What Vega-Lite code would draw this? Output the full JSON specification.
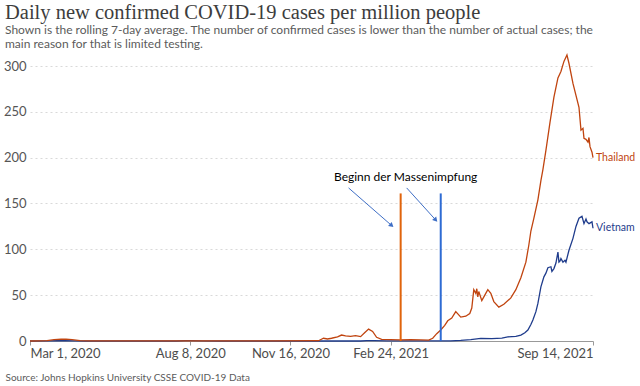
{
  "$schema": "https://vega.github.io/schema/vega-lite/v6.json",
  "width": 563,
  "height": 286,
  "autosize": {"type": "none"},
  "padding": {"left": 30, "top": 55, "right": 47, "bottom": 45},
  "background": "white",
  "config": {"view": {"stroke": null}},
  "title": {
    "text": "Daily new confirmed COVID-19 cases per million people",
    "subtitle": ["Shown is the rolling 7-day average. The number of confirmed cases is lower than the number of actual cases; the", "main reason for that is limited testing."],
    "anchor": "start",
    "frame": "group",
    "dx": -25,
    "font": "Liberation Serif",
    "fontSize": 20.5,
    "fontWeight": "normal",
    "color": "#3d3d3d",
    "subtitleFont": "Lato",
    "subtitleFontSize": 12,
    "subtitleColor": "#5b5b5b",
    "subtitlePadding": 2,
    "subtitleLineHeight": 14,
    "offset": 2
  },
  "datasets": {
    "series": [
      {"country": "Vietnam", "date": "2020-03-01", "value": 0},
      {"country": "Vietnam", "date": "2020-03-20", "value": 0.1},
      {"country": "Vietnam", "date": "2020-03-28", "value": 0.25},
      {"country": "Vietnam", "date": "2020-04-05", "value": 0.3},
      {"country": "Vietnam", "date": "2020-04-15", "value": 0.1},
      {"country": "Vietnam", "date": "2020-04-25", "value": 0.02},
      {"country": "Vietnam", "date": "2020-07-25", "value": 0.02},
      {"country": "Vietnam", "date": "2020-08-03", "value": 0.3},
      {"country": "Vietnam", "date": "2020-08-10", "value": 0.4},
      {"country": "Vietnam", "date": "2020-08-20", "value": 0.2},
      {"country": "Vietnam", "date": "2020-09-05", "value": 0.02},
      {"country": "Vietnam", "date": "2021-01-25", "value": 0.02},
      {"country": "Vietnam", "date": "2021-01-31", "value": 0.5},
      {"country": "Vietnam", "date": "2021-02-08", "value": 0.4},
      {"country": "Vietnam", "date": "2021-02-20", "value": 0.1},
      {"country": "Vietnam", "date": "2021-03-15", "value": 0.05},
      {"country": "Vietnam", "date": "2021-04-25", "value": 0.1},
      {"country": "Vietnam", "date": "2021-05-05", "value": 0.6},
      {"country": "Vietnam", "date": "2021-05-15", "value": 1.4},
      {"country": "Vietnam", "date": "2021-05-25", "value": 2.8},
      {"country": "Vietnam", "date": "2021-06-05", "value": 2.6},
      {"country": "Vietnam", "date": "2021-06-15", "value": 3.2},
      {"country": "Vietnam", "date": "2021-06-21", "value": 4.5},
      {"country": "Vietnam", "date": "2021-06-29", "value": 5},
      {"country": "Vietnam", "date": "2021-07-04", "value": 6.5},
      {"country": "Vietnam", "date": "2021-07-08", "value": 9},
      {"country": "Vietnam", "date": "2021-07-11", "value": 12},
      {"country": "Vietnam", "date": "2021-07-14", "value": 18},
      {"country": "Vietnam", "date": "2021-07-16", "value": 23},
      {"country": "Vietnam", "date": "2021-07-19", "value": 32},
      {"country": "Vietnam", "date": "2021-07-21", "value": 41},
      {"country": "Vietnam", "date": "2021-07-24", "value": 59},
      {"country": "Vietnam", "date": "2021-07-27", "value": 70},
      {"country": "Vietnam", "date": "2021-07-29", "value": 74},
      {"country": "Vietnam", "date": "2021-07-31", "value": 80},
      {"country": "Vietnam", "date": "2021-08-03", "value": 81},
      {"country": "Vietnam", "date": "2021-08-04", "value": 76},
      {"country": "Vietnam", "date": "2021-08-06", "value": 79},
      {"country": "Vietnam", "date": "2021-08-08", "value": 85},
      {"country": "Vietnam", "date": "2021-08-10", "value": 97},
      {"country": "Vietnam", "date": "2021-08-11", "value": 86},
      {"country": "Vietnam", "date": "2021-08-12", "value": 87},
      {"country": "Vietnam", "date": "2021-08-13", "value": 90},
      {"country": "Vietnam", "date": "2021-08-15", "value": 86},
      {"country": "Vietnam", "date": "2021-08-17", "value": 88},
      {"country": "Vietnam", "date": "2021-08-18", "value": 86},
      {"country": "Vietnam", "date": "2021-08-21", "value": 99},
      {"country": "Vietnam", "date": "2021-08-25", "value": 112},
      {"country": "Vietnam", "date": "2021-08-28", "value": 125},
      {"country": "Vietnam", "date": "2021-08-31", "value": 134},
      {"country": "Vietnam", "date": "2021-09-03", "value": 136},
      {"country": "Vietnam", "date": "2021-09-05", "value": 128},
      {"country": "Vietnam", "date": "2021-09-07", "value": 133},
      {"country": "Vietnam", "date": "2021-09-08", "value": 130},
      {"country": "Vietnam", "date": "2021-09-10", "value": 128},
      {"country": "Vietnam", "date": "2021-09-13", "value": 130},
      {"country": "Vietnam", "date": "2021-09-14", "value": 123},
      {"country": "Thailand", "date": "2020-03-01", "value": 0.02},
      {"country": "Thailand", "date": "2020-03-10", "value": 0.1},
      {"country": "Thailand", "date": "2020-03-18", "value": 0.5},
      {"country": "Thailand", "date": "2020-03-25", "value": 1.5},
      {"country": "Thailand", "date": "2020-04-01", "value": 1.9},
      {"country": "Thailand", "date": "2020-04-06", "value": 2.0},
      {"country": "Thailand", "date": "2020-04-12", "value": 1.4},
      {"country": "Thailand", "date": "2020-04-20", "value": 0.5},
      {"country": "Thailand", "date": "2020-04-30", "value": 0.15},
      {"country": "Thailand", "date": "2020-05-15", "value": 0.05},
      {"country": "Thailand", "date": "2020-07-01", "value": 0.05},
      {"country": "Thailand", "date": "2020-09-01", "value": 0.1},
      {"country": "Thailand", "date": "2020-11-01", "value": 0.1},
      {"country": "Thailand", "date": "2020-12-14", "value": 0.3},
      {"country": "Thailand", "date": "2020-12-19", "value": 3},
      {"country": "Thailand", "date": "2020-12-23", "value": 2.2},
      {"country": "Thailand", "date": "2020-12-27", "value": 3},
      {"country": "Thailand", "date": "2021-01-02", "value": 4.5},
      {"country": "Thailand", "date": "2021-01-06", "value": 6.5},
      {"country": "Thailand", "date": "2021-01-10", "value": 5.5},
      {"country": "Thailand", "date": "2021-01-15", "value": 5},
      {"country": "Thailand", "date": "2021-01-20", "value": 5.8},
      {"country": "Thailand", "date": "2021-01-25", "value": 4.8},
      {"country": "Thailand", "date": "2021-01-29", "value": 9},
      {"country": "Thailand", "date": "2021-02-02", "value": 13},
      {"country": "Thailand", "date": "2021-02-06", "value": 10.5},
      {"country": "Thailand", "date": "2021-02-10", "value": 4},
      {"country": "Thailand", "date": "2021-02-15", "value": 1.8},
      {"country": "Thailand", "date": "2021-02-24", "value": 1.5},
      {"country": "Thailand", "date": "2021-03-05", "value": 1.2},
      {"country": "Thailand", "date": "2021-03-16", "value": 1.5},
      {"country": "Thailand", "date": "2021-03-26", "value": 1.2},
      {"country": "Thailand", "date": "2021-04-03", "value": 1.0},
      {"country": "Thailand", "date": "2021-04-07", "value": 3},
      {"country": "Thailand", "date": "2021-04-11", "value": 8},
      {"country": "Thailand", "date": "2021-04-15", "value": 12},
      {"country": "Thailand", "date": "2021-04-19", "value": 17},
      {"country": "Thailand", "date": "2021-04-22", "value": 22},
      {"country": "Thailand", "date": "2021-04-26", "value": 25},
      {"country": "Thailand", "date": "2021-04-30", "value": 32},
      {"country": "Thailand", "date": "2021-05-05", "value": 26},
      {"country": "Thailand", "date": "2021-05-10", "value": 27},
      {"country": "Thailand", "date": "2021-05-14", "value": 30},
      {"country": "Thailand", "date": "2021-05-16", "value": 36},
      {"country": "Thailand", "date": "2021-05-18", "value": 56},
      {"country": "Thailand", "date": "2021-05-20", "value": 52},
      {"country": "Thailand", "date": "2021-05-21", "value": 57},
      {"country": "Thailand", "date": "2021-05-22", "value": 48},
      {"country": "Thailand", "date": "2021-05-23", "value": 54},
      {"country": "Thailand", "date": "2021-05-26", "value": 44},
      {"country": "Thailand", "date": "2021-05-29", "value": 50},
      {"country": "Thailand", "date": "2021-06-01", "value": 56},
      {"country": "Thailand", "date": "2021-06-04", "value": 52},
      {"country": "Thailand", "date": "2021-06-07", "value": 43},
      {"country": "Thailand", "date": "2021-06-12", "value": 37},
      {"country": "Thailand", "date": "2021-06-17", "value": 40},
      {"country": "Thailand", "date": "2021-06-24", "value": 47},
      {"country": "Thailand", "date": "2021-06-29", "value": 56},
      {"country": "Thailand", "date": "2021-07-04", "value": 69},
      {"country": "Thailand", "date": "2021-07-09", "value": 86},
      {"country": "Thailand", "date": "2021-07-12", "value": 105},
      {"country": "Thailand", "date": "2021-07-14", "value": 120},
      {"country": "Thailand", "date": "2021-07-17", "value": 134},
      {"country": "Thailand", "date": "2021-07-21", "value": 154},
      {"country": "Thailand", "date": "2021-07-24", "value": 175},
      {"country": "Thailand", "date": "2021-07-26", "value": 187},
      {"country": "Thailand", "date": "2021-07-29", "value": 208},
      {"country": "Thailand", "date": "2021-08-02", "value": 238},
      {"country": "Thailand", "date": "2021-08-06", "value": 266},
      {"country": "Thailand", "date": "2021-08-10", "value": 287},
      {"country": "Thailand", "date": "2021-08-13", "value": 294},
      {"country": "Thailand", "date": "2021-08-16", "value": 305},
      {"country": "Thailand", "date": "2021-08-19", "value": 312},
      {"country": "Thailand", "date": "2021-08-21", "value": 303},
      {"country": "Thailand", "date": "2021-08-25", "value": 281},
      {"country": "Thailand", "date": "2021-08-28", "value": 268},
      {"country": "Thailand", "date": "2021-08-31", "value": 255},
      {"country": "Thailand", "date": "2021-09-02", "value": 230},
      {"country": "Thailand", "date": "2021-09-04", "value": 232},
      {"country": "Thailand", "date": "2021-09-05", "value": 221},
      {"country": "Thailand", "date": "2021-09-07", "value": 220},
      {"country": "Thailand", "date": "2021-09-09", "value": 217},
      {"country": "Thailand", "date": "2021-09-10", "value": 222},
      {"country": "Thailand", "date": "2021-09-11", "value": 212},
      {"country": "Thailand", "date": "2021-09-13", "value": 206},
      {"country": "Thailand", "date": "2021-09-14", "value": 200}
    ],
    "events": [
      {"country": "Thailand", "date": "2021-03-06", "value": 161, "base": 0},
      {"country": "Vietnam", "date": "2021-04-15", "value": 161, "base": 0}
    ],
    "arrows": [
      {"arrow": "a1", "date": "2021-01-13", "value": 167, "date2": "2021-02-25", "value2": 126},
      {"arrow": "a2", "date": "2021-03-12", "value": 167, "date2": "2021-04-10", "value2": 132}
    ],
    "note": [
      {"label": "Beginn der Massenimpfung", "date": "2021-03-11", "value": 179}
    ]
  },
  "layer": [
    {
      "data": {"name": "series"},
      "mark": {"type": "line", "strokeWidth": 1.3},
      "encoding": {
        "x": {
          "field": "date", "type": "temporal",
          "scale": {"type": "utc", "domain": [{"year": 2020, "month": 3, "date": 1, "utc": true}, {"year": 2021, "month": 9, "date": 14, "utc": true}]},
          "axis": {
            "values": [
              {"year": 2020, "month": 3, "date": 1, "utc": true},
              {"year": 2020, "month": 8, "date": 8, "utc": true},
              {"year": 2020, "month": 11, "date": 16, "utc": true},
              {"year": 2021, "month": 2, "date": 24, "utc": true},
              {"year": 2021, "month": 9, "date": 14, "utc": true}
            ],
            "format": "%b %-d, %Y",
            "labelFlush": true,
            "labelFont": "Lato",
            "labelFontSize": 13,
            "labelColor": "#4d4d4d",
            "labelPadding": 2,
            "tickSize": 4,
            "tickColor": "#999",
            "domainColor": "#999",
            "grid": false,
            "title": "Source: Johns Hopkins University CSSE COVID-19 Data",
            "titleFont": "Lato",
            "titleFontSize": 10,
            "titleFontWeight": "normal",
            "titleColor": "#5b5b5b",
            "titleAnchor": "start",
            "titleAlign": "left",
            "titleBaseline": "alphabetic",
            "titleX": -25,
            "titleY": 39
          }
        },
        "y": {
          "field": "value", "type": "quantitative",
          "scale": {"domain": [0, 312], "nice": false},
          "axis": {
            "values": [0, 50, 100, 150, 200, 250, 300],
            "title": null,
            "domain": false,
            "ticks": false,
            "labelFont": "Lato",
            "labelFontSize": 13,
            "labelColor": "#555",
            "labelPadding": 4,
            "gridColor": "#d9d9d9",
            "gridDash": [2, 3]
          }
        },
        "color": {
          "field": "country", "type": "nominal",
          "scale": {"domain": ["Thailand", "Vietnam"], "range": ["#c0440f", "#1f3c8c"]},
          "legend": null
        }
      }
    },
    {
      "data": {"name": "series"},
      "transform": [
        {"joinaggregate": [{"op": "max", "field": "date", "as": "last"}], "groupby": ["country"]},
        {"filter": "time(datum.date) == time(datum.last)"}
      ],
      "mark": {"type": "text", "align": "left", "baseline": "middle", "dx": 3, "font": "Lato", "fontSize": 10.5},
      "encoding": {
        "x": {"field": "date", "type": "temporal"},
        "y": {"field": "value", "type": "quantitative"},
        "text": {"field": "country", "type": "nominal"},
        "color": {"field": "country", "type": "nominal", "legend": null}
      }
    },
    {
      "data": {"name": "events"},
      "transform": [{"filter": "datum.country == 'Thailand'"}],
      "mark": {"type": "rule", "color": "#e0640c", "strokeWidth": 2},
      "encoding": {
        "x": {"field": "date", "type": "temporal"},
        "y": {"field": "value", "type": "quantitative"},
        "y2": {"field": "base"}
      }
    },
    {
      "data": {"name": "events"},
      "transform": [{"filter": "datum.country == 'Vietnam'"}],
      "mark": {"type": "rule", "color": "#2e6bd3", "strokeWidth": 2},
      "encoding": {
        "x": {"field": "date", "type": "temporal"},
        "y": {"field": "value", "type": "quantitative"},
        "y2": {"field": "base"}
      }
    },
    {
      "data": {"name": "arrows"},
      "mark": {"type": "rule", "color": "#3f6fc6", "strokeWidth": 1},
      "encoding": {
        "x": {"field": "date", "type": "temporal"},
        "x2": {"field": "date2"},
        "y": {"field": "value", "type": "quantitative"},
        "y2": {"field": "value2"}
      }
    },
    {
      "data": {"name": "arrows"},
      "transform": [{"filter": "datum.arrow == 'a1'"}],
      "mark": {"type": "point", "shape": "triangle-right", "filled": true, "size": 30, "angle": 42, "color": "#3f6fc6", "opacity": 1},
      "encoding": {
        "x": {"field": "date2", "type": "temporal"},
        "y": {"field": "value2", "type": "quantitative"}
      }
    },
    {
      "data": {"name": "arrows"},
      "transform": [{"filter": "datum.arrow == 'a2'"}],
      "mark": {"type": "point", "shape": "triangle-right", "filled": true, "size": 30, "angle": 49, "color": "#3f6fc6", "opacity": 1},
      "encoding": {
        "x": {"field": "date2", "type": "temporal"},
        "y": {"field": "value2", "type": "quantitative"}
      }
    },
    {
      "data": {"name": "note"},
      "mark": {"type": "text", "align": "center", "baseline": "middle", "font": "Lato", "fontSize": 12, "color": "#000"},
      "encoding": {
        "x": {"field": "date", "type": "temporal"},
        "y": {"field": "value", "type": "quantitative"},
        "text": {"field": "label", "type": "nominal"}
      }
    }
  ]
}
